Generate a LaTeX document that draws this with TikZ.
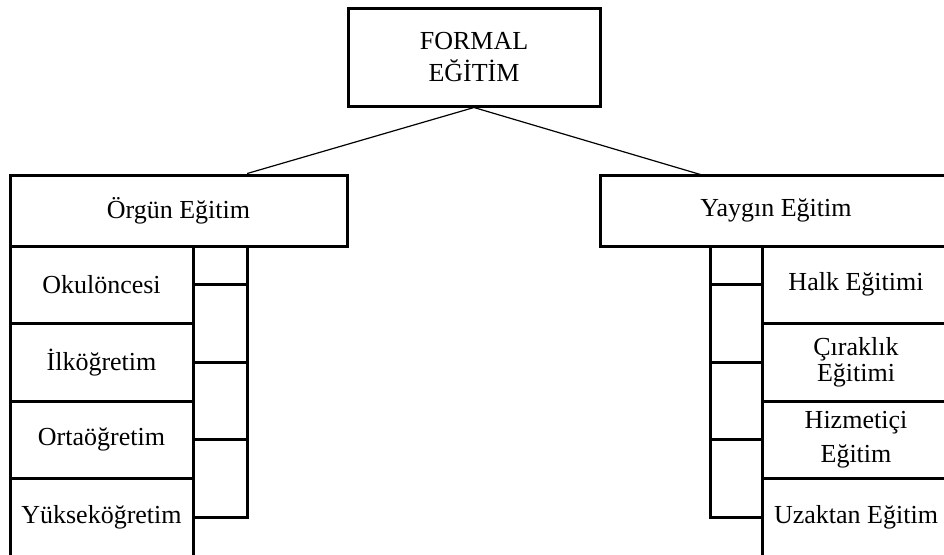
\documentclass[tikz,border=0pt]{standalone}
\usepackage{fontspec}
\setmainfont{Liberation Serif}
\usetikzlibrary{calc}
\tikzset{
  box/.style={draw, line width=1.5pt, rectangle, inner sep=0pt, align=center,
              font=\fontsize{13pt}{15pt}\selectfont},
  openbox/.style={box, draw=none, outer sep=0pt},
  bus/.style={line width=1.5pt},
  link/.style={line width=0.6pt}
}
\begin{document}
\begin{tikzpicture}[x=0.5pt, y=-0.5pt]
  \useasboundingbox (0,0) rectangle (944,554);
  \clip (0,0) rectangle (944,554);
  \coordinate (edge) at (946,0);

  % root
  \node[box, minimum width=126pt, minimum height=49pt,
        font=\fontsize{13pt}{16pt}\selectfont] (root) at (474,57) {FORMAL\\EĞİTİM};

  % the two branches
  \node[box, minimum width=168.5pt, minimum height=35.5pt] (org) at (178.5,210.5) {Örgün Eğitim};
  \node[openbox, minimum width=176pt, minimum height=35.5pt] (yay) at (776,210.5) {Yaygın Eğitim};

  \coordinate (orgin) at ($(org.north west)!0.702!(org.north east)$);
  \coordinate (yayin) at ($(yay.north west)!0.29!(yay.north east)$);
  \draw[link] (root.south) -- (orgin);
  \draw[link] (root.south) -- (yayin);

  % formal schooling levels
  \node[box, minimum width=91.5pt, minimum height=38.75pt] (o1) at (101.5,284.75) {Okulöncesi};
  \node[box, minimum width=91.5pt, minimum height=38.75pt] (o2) at (101.5,362.25) {İlköğretim};
  \node[box, minimum width=91.5pt, minimum height=38.75pt] (o3) at (101.5,439.75) {Ortaöğretim};
  \node[box, minimum width=91.5pt, minimum height=38.75pt] (o4) at (101.5,517.25) {Yükseköğretim};

  % non-formal education types
  \node[openbox, minimum width=94pt, minimum height=38.75pt] (y1) at (856,284.75) {Halk Eğitimi};
  \node[openbox, minimum width=94pt, minimum height=38.75pt,
        font=\fontsize{13pt}{11.5pt}\selectfont] (y2) at (856,362.25) {Çıraklık\\Eğitimi};
  \node[openbox, minimum width=94pt, minimum height=38.75pt,
        font=\fontsize{13pt}{17pt}\selectfont] (y3) at (856,439.75) {Hizmetiçi\\Eğitim};
  \node[openbox, minimum width=94pt, minimum height=38.75pt] (y4) at (856,517.25) {Uzaktan Eğitim};

  % outlines of the boxes that run past the right border
  \foreach \n in {yay,y1,y2,y3,y4}
    \draw[bus] (\n.north east -| edge) -- (\n.north west) -- (\n.south west) -- (\n.south east -| edge);

  % left bracket
  \coordinate (lbus) at (247,246);
  \draw[bus] (lbus) -- (lbus |- o4.east) -- (o4.east);
  \foreach \n in {o1,o2,o3}
    \draw[bus] (\n.east) -- (\n.east -| lbus);

  % right bracket
  \coordinate (rbus) at (710,246);
  \draw[bus] (rbus) -- (rbus |- y4.west) -- (y4.west);
  \foreach \n in {y1,y2,y3}
    \draw[bus] (\n.west) -- (\n.west -| rbus);
\end{tikzpicture}
\end{document}
